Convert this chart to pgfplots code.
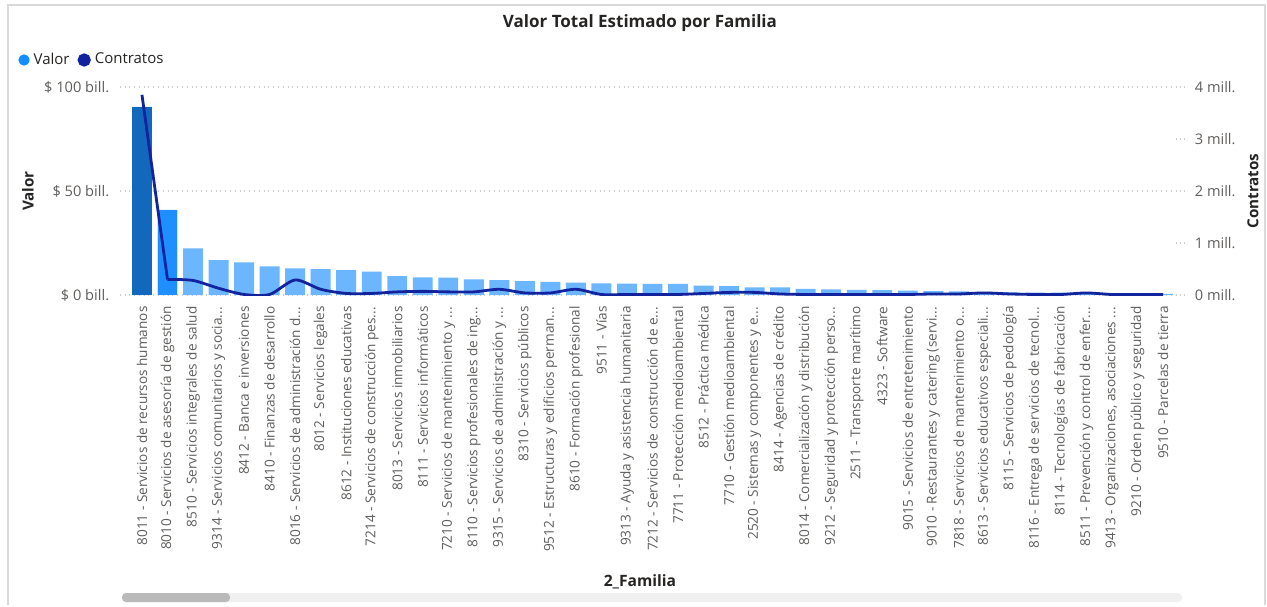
\documentclass[border=0pt]{standalone}
\usepackage{fontspec}
\setmainfont{Open Sans}
\usepackage{pgfplots}
\usepackage{pgfplotstable}
\pgfplotsset{compat=1.18}
\definecolor{barlight}{HTML}{6BB6FF}
\definecolor{barmid}{HTML}{1F8FFF}
\definecolor{bardark}{HTML}{1168BC}
\definecolor{linec}{HTML}{12239E}
\definecolor{valorc}{HTML}{118DFF}
\definecolor{tickc}{HTML}{605E5C}
\definecolor{titlec}{HTML}{252423}
\definecolor{gridc}{HTML}{CDCDCD}
\newcommand{\el}{.\kern0.2pt.\kern0.2pt.}
\pgfplotstableread{
x valor contratos
0 90.5 3.85
1 40.9 0.30
2 22.4 0.28
3 16.8 0.13
4 15.7 0.01
5 13.8 0.01
6 12.8 0.29
7 12.4 0.11
8 12.0 0.03
9 11.2 0.03
10 9.1 0.06
11 8.5 0.07
12 8.4 0.06
13 7.5 0.06
14 7.2 0.11
15 6.7 0.04
16 6.3 0.04
17 5.9 0.11
18 5.6 0.01
19 5.5 0.01
20 5.3 0.01
21 5.3 0.01
22 4.5 0.03
23 4.3 0.05
24 3.7 0.05
25 3.7 0.02
26 2.9 0.01
27 2.7 0.01
28 2.5 0.01
29 2.3 0.01
30 2.1 0.01
31 1.9 0.02
32 1.7 0.02
33 1.5 0.04
34 1.3 0.02
35 1.2 0.01
36 1.1 0.01
37 1.0 0.04
38 0.9 0.01
39 0.8 0.01
40 0.6 0.01
}\datatable
\begin{document}
\begin{tikzpicture}
\useasboundingbox (0pt,0pt) rectangle (633.5pt,303pt);
\fill[white] (0pt,0pt) rectangle (633.5pt,303pt);
\draw[gray!30, line width=0.8pt] (4pt,0.5pt) -- (4pt,300.5pt) -- (632.5pt,300.5pt) -- (632.5pt,0.5pt);
% scrollbar
\fill[gray!12, rounded corners=2pt] (61pt,2pt) rectangle (591pt,6.5pt);
\fill[gray!55, rounded corners=2pt] (61pt,2pt) rectangle (115pt,6.5pt);
\begin{axis}[
  at={(64.6pt,155.5pt)}, anchor=south west,
  scale only axis, width=523.3pt, height=104pt,
  xmin=-0.5, xmax=40.5, ymin=0, ymax=100,
  axis x line*=bottom, axis y line*=left,
  x axis line style={draw=none}, y axis line style={draw=none},
  xtick={0,1,2,3,4,5,6,7,8,9,10,11,12,13,14,15,16,17,18,19,20,21,22,23,24,25,26,27,28,29,30,31,32,33,34,35,36,37,38,39,40}, major x tick style={draw=none},
  xticklabels={
    8011 - Servicios de recursos humanos,
    8010 - Servicios de asesoría de gestión,
    8510 - Servicios integrales de salud,
    9314 - Servicios comunitarios y socia\el,
    8412 - Banca e inversiones,
    8410 - Finanzas de desarrollo,
    8016 - Servicios de administración d\el,
    8012 - Servicios legales,
    8612 - Instituciones educativas,
    7214 - Servicios de construcción pes\el,
    8013 - Servicios inmobiliarios,
    8111 - Servicios informáticos,
    7210 - Servicios de mantenimiento y \el,
    8110 - Servicios profesionales de ing\el,
    9315 - Servicios de administración y \el,
    8310 - Servicios públicos,
    9512 - Estructuras y edificios perman\el,
    8610 - Formación profesional,
    9511 - Vías,
    9313 - Ayuda y asistencia humanitaria,
    7212 - Servicios de construcción de e\el,
    7711 - Protección medioambiental,
    8512 - Práctica médica,
    7710 - Gestión medioambiental,
    2520 - Sistemas y componentes y e\el,
    8414 - Agencias de crédito,
    8014 - Comercialización y distribución,
    9212 - Seguridad y protección perso\el,
    2511 - Transporte marítimo,
    4323 - Software,
    9015 - Servicios de entretenimiento,
    9010 - Restaurantes y catering (servi\el,
    7818 - Servicios de mantenimiento o\el,
    8613 - Servicios educativos especiali\el,
    8115 - Servicios de pedología,
    8116 - Entrega de servicios de tecnol\el,
    8114 - Tecnologías de fabricación,
    8511 - Prevención y control de enfer\el,
    {9413 - Organizaciones, asociaciones \el},
    9210 - Orden público y seguridad,
    9510 - Parcelas de tierra},
  xticklabel style={rotate=90, anchor=east, font=\fontsize{6.8}{7.5}\selectfont, text=tickc, inner sep=1pt},
  ytick={0,50,100},
  yticklabels={\$ 0 bill.,\$ 50 bill.,\$ 100 bill.},
  yticklabel style={font=\fontsize{7.3}{8}\selectfont, text=tickc, xshift=-2pt},
  ymajorgrids, grid style={gridc, dotted, line width=0.6pt},
  tick align=outside, major y tick style={gridc, dotted, line width=0.6pt}, major tick length=4.5pt,
  ylabel={Valor}, ylabel style={at={(axis description cs:-0.0967,0.5)}, anchor=center, font=\fontsize{7.6}{8.5}\selectfont\bfseries, text=titlec},
  xlabel={2\_Familia}, xlabel style={at={(axis description cs:0.488,-1.38)}, anchor=center, font=\fontsize{7.8}{8.5}\selectfont\bfseries, text=titlec},
  title={Valor Total Estimado por Familia}, title style={at={(axis description cs:0.488,1.322)}, anchor=center, yshift=-7.5pt, font=\fontsize{8.5}{10}\selectfont\bfseries, text=titlec},
  ybar, bar width=0.78, bar shift=0pt,
]
\addplot[fill=barlight, draw=none] table[x=x, y=valor] {\datatable};
\addplot[fill=barmid, draw=none, restrict x to domain=0.5:1.5] table[x=x, y=valor] {\datatable};
\addplot[fill=bardark, draw=none, restrict x to domain=-0.5:0.5] table[x=x, y=valor] {\datatable};
\end{axis}
\begin{axis}[
  at={(64.6pt,155.5pt)}, anchor=south west,
  scale only axis, width=523.3pt, height=104pt,
  xmin=-0.5, xmax=40.5, ymin=0, ymax=4,
  axis x line=none, axis y line*=right,
  y axis line style={draw=none},
  ytick={0,1,2,3,4},
  yticklabels={0 mill.,1 mill.,2 mill.,3 mill.,4 mill.},
  yticklabel style={font=\fontsize{7.3}{8}\selectfont, text=tickc, xshift=1.5pt},
  tick align=outside, major y tick style={gridc, dotted, line width=0.6pt}, major tick length=4.5pt,
  ylabel={Contratos}, ylabel style={at={(axis description cs:1.0738,0.5)}, anchor=center, font=\fontsize{7.6}{8.5}\selectfont\bfseries, text=titlec},
  legend style={at={(axis description cs:-0.1062,1.1298)}, anchor=west, draw=none, fill=none,
    font=\fontsize{7.5}{8.5}\selectfont, text=titlec, inner sep=0pt,
    /tikz/every even column/.append style={column sep=2pt}},
  legend columns=2,
]
\addlegendimage{legend image code/.code={\fill[valorc] (2.6pt,0) circle (2.6pt);}}
\addlegendentry{Valor}
\addplot[linec, line width=1.4pt, restrict x to domain=0:1,
  legend image code/.code={\fill[linec] (2.6pt,0) circle (2.6pt);}] table[x=x, y=contratos] {\datatable};
\addlegendentry{Contratos}
\addplot[linec, line width=1.4pt, smooth, tension=0.45, restrict x to domain=1:40, forget plot] table[x=x, y=contratos] {\datatable};
\end{axis}
\end{tikzpicture}
\end{document}
